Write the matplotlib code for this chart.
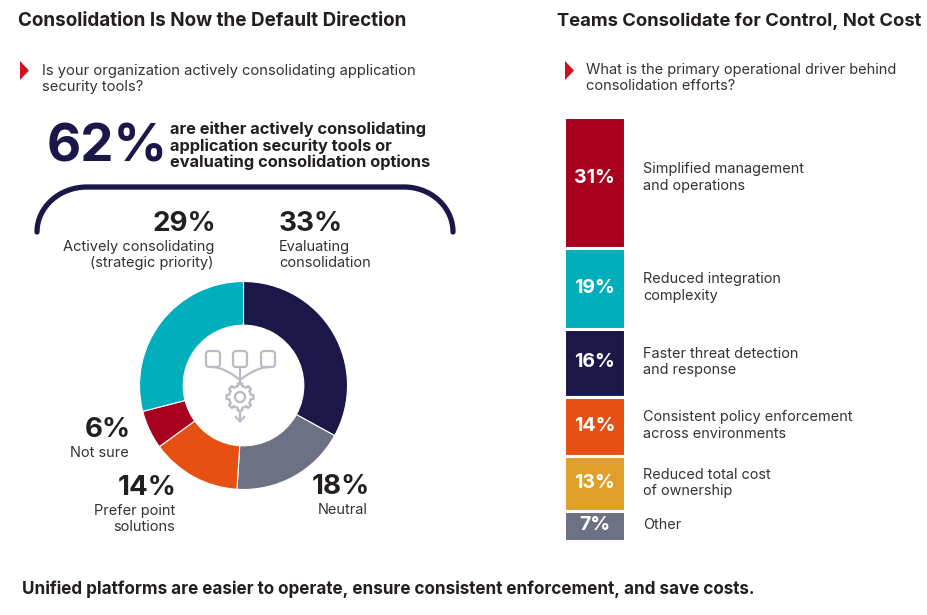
import numpy as np
import matplotlib
matplotlib.use("Agg")
import matplotlib.pyplot as plt
from matplotlib.patches import FancyBboxPatch, Polygon, Circle

plt.rcParams['font.family'] = ['Inter', 'DejaVu Sans']

# donut data (clockwise from 12 o'clock)
donut_labels = ['Evaluating\nconsolidation', 'Neutral', 'Prefer point\nsolutions',
                'Not sure', 'Actively consolidating\n(strategic priority)']
donut_values = [33, 18, 14, 6, 29]
donut_colors = ['#1B1749', '#6C7184', '#E65012', '#A8001F', '#00AEBC']

# stacked bar data (top to bottom)
bar_labels = ['Simplified management\nand operations', 'Reduced integration\ncomplexity',
              'Faster threat detection\nand response', 'Consistent policy enforcement\nacross environments',
              'Reduced total cost\nof ownership', 'Other']
bar_values = [31, 19, 16, 14, 13, 7]
bar_colors = ['#A8001F', '#00AEBC', '#1B1749', '#E65012', '#E09F2A', '#6C7184']

DARK = '#231F20'
TXT = '#333333'
NAVY = '#1B1749'
W, H = 928, 615

fig = plt.figure(figsize=(W / 100, H / 100), dpi=100)
fig.patch.set_facecolor('white')

# full-figure axes in pixel coordinates for text and decoration
ax = fig.add_axes([0, 0, 1, 1])
ax.set_xlim(0, W)
ax.set_ylim(H, 0)
ax.axis('off')

# titles
ax.text(18, 21, 'Consolidation Is Now the Default Direction', fontsize=13.6, fontweight='bold',
        color=DARK, va='center', ha='left')
ax.text(921, 21, 'Teams Consolidate for Control, Not Cost', fontsize=13.25, fontweight='bold',
        color=DARK, va='center', ha='right')

# question markers
for x0, y0 in [(20, 61), (565, 61)]:
    ax.add_patch(Polygon([[x0, y0], [x0 + 9, y0 + 9.5], [x0, y0 + 19]], closed=True,
                         color='#D0101E', lw=0))
ax.text(42, 79, 'Is your organization actively consolidating application\nsecurity tools?',
        fontsize=10.65, color=TXT, va='center', ha='left', linespacing=1.25)
ax.text(586, 78, 'What is the primary operational driver behind\nconsolidation efforts?',
        fontsize=10.5, color=TXT, va='center', ha='left', linespacing=1.2)

# headline stat
ax.text(47, 148, '62%', fontsize=38, fontweight='bold', color=NAVY, va='center', ha='left')
ax.text(170, 146, 'are either actively consolidating\napplication security tools or\nevaluating consolidation options',
        fontsize=11.8, fontweight='bold', color=DARK, va='center', ha='left', linespacing=1.1)

# bracket
t = np.linspace(np.pi, np.pi / 2, 40)
lx = 87 + 50 * np.cos(t)
ly = 232 - 45 * np.sin(t)
t2 = np.linspace(np.pi / 2, 0, 40)
rx = 404 + 49 * np.cos(t2)
ry = 232 - 45 * np.sin(t2)
ax.plot(np.r_[lx, rx], np.r_[ly, ry], color=NAVY, lw=3.8, solid_capstyle='round')

# donut
cx, cy, r = 243.5, 385.5, 104
dax = fig.add_axes([(cx - r) / W, (H - cy - r) / H, 2 * r / W, 2 * r / H])
dax.pie(donut_values, colors=donut_colors, startangle=90, counterclock=False,
        wedgeprops=dict(width=0.42, edgecolor='white', linewidth=0.8))
dax.set_xlim(-1, 1)
dax.set_ylim(-1, 1)
dax.set_aspect('equal')

# donut labels: (x, y of pct, alignment)
donut_pos = [(279, 224, 'left'), (370, 487, 'right'), (177, 488, 'right'),
             (131, 430, 'right'), (216, 224, 'right')]
for (x, y, ha), v, lab in zip(donut_pos, donut_values, donut_labels):
    ax.text(x, y, f'{v}%', fontsize=20, fontweight='bold', color=DARK, va='center', ha=ha)
    xo = x - 2 if ha == 'right' else x
    ax.text(xo, y + 16, lab, fontsize=10.5, color=TXT, va='top', ha=ha, linespacing=1.22)

# center icon
icol = '#B9BCC7'
for bx in [213, 240, 268]:
    ax.add_patch(FancyBboxPatch((bx - 7, 351), 14, 16, boxstyle='round,pad=0,rounding_size=3',
                                fill=False, ec=icol, lw=1.6))
for bx in [213, 268]:
    tt = np.linspace(0, 1, 20)
    ax.plot(bx + (240 - bx) * tt ** 0.6, 367 + 13 * tt, color=icol, lw=1.6)
ax.plot([240, 240], [367, 384], color=icol, lw=1.6)
ang = np.linspace(0, 2 * np.pi, 161)
rad = 11 + 2.5 * (np.cos(8 * ang) > 0.2)
ax.add_patch(Polygon(np.c_[240 + rad * np.cos(ang), 397 + rad * np.sin(ang)], closed=True,
                     fill=False, ec=icol, lw=1.6))
ax.add_patch(Circle((240, 397), 5, fill=False, ec=icol, lw=1.6))
ax.plot([240, 240], [411, 421], color=icol, lw=1.6)
ax.plot([236, 240, 244], [417, 421.5, 417], color=icol, lw=1.6)

# stacked bar
bx0, bx1, by0, by1 = 564, 625, 117, 541
bax = fig.add_axes([bx0 / W, (H - by1) / H, (bx1 - bx0) / W, (by1 - by0) / H])
bottoms = np.cumsum([0] + bar_values[:-1])
bax.bar(0, bar_values, bottom=bottoms, width=1, color=bar_colors, edgecolor='white', linewidth=2.2)
bax.set_xlim(-0.5, 0.5)
bax.set_ylim(100, 0)
bax.axis('off')
lab_x = (643 - bx0) / (bx1 - bx0) - 0.5
for b, v, lab in zip(bottoms, bar_values, bar_labels):
    mid = b + v / 2 - (1.2 if v > 25 else 0.2)
    bax.text(0, mid, f'{v}%', fontsize=14, fontweight='bold', color='white',
             va='center', ha='center')
    bax.text(lab_x, mid, lab, fontsize=10.4, color=TXT, va='center', ha='left',
             linespacing=1.25, clip_on=False)

# footer
ax.text(22, 589, 'Unified platforms are easier to operate, ensure consistent enforcement, and save costs.',
        fontsize=12.3, fontweight='bold', color=DARK, va='center', ha='left')

fig.savefig('out.png', dpi=100, facecolor='white')
